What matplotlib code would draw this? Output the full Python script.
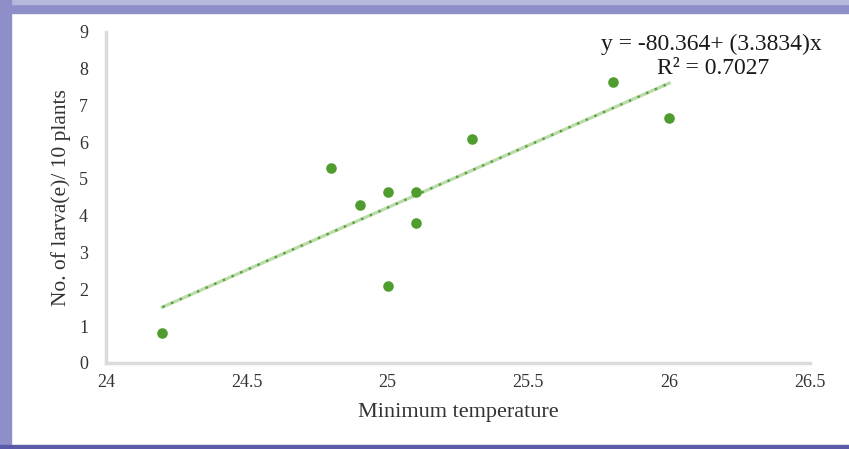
import matplotlib
matplotlib.use('Agg')
import matplotlib.pyplot as plt
import numpy as np
from matplotlib.patches import Rectangle

# data
min_temp = [24.2, 24.8, 24.9, 25.0, 25.0, 25.1, 25.1, 25.3, 25.8, 26.0]
larvae = [0.8, 5.3, 4.3, 4.65, 2.1, 4.65, 3.8, 6.1, 7.65, 6.65]
intercept = -80.364
slope = 3.3834
r_squared = 0.7027

x_ticks = [24, 24.5, 25, 25.5, 26, 26.5]
x_tick_labels = ['24', '24.5', '25', '25.5', '26', '26.5']
y_ticks = list(range(0, 10))

plt.rcParams['font.family'] = ['Liberation Serif', 'DejaVu Serif']

fig = plt.figure(figsize=(8.49, 4.49), dpi=100)
ax = fig.add_axes([0.125, 0.192, 0.829, 0.737])

# scatter points
ax.scatter(min_temp, larvae, s=58, color='#4f9c2f', zorder=3, linewidths=0)

# linear trendline
xl = np.array([min(min_temp), max(min_temp)])
yl = intercept + slope * xl
ax.plot(xl, yl, color='#bcdcab', lw=2.4, zorder=2)
ax.plot(xl, yl, color='#5aa03a', lw=1.7, linestyle=(0, (1, 3)), zorder=2)

ax.text(0.86, 0.962, 'y = %.3f+ (%.4f)x' % (intercept, slope),
        transform=ax.transAxes, ha='center', va='center', fontsize=17, color='#1a1a1a')
ax.text(0.862, 0.89, 'R² = %.4f' % r_squared,
        transform=ax.transAxes, ha='center', va='center', fontsize=17, color='#1a1a1a')

ax.set_xlim(24, 26.5)
ax.set_ylim(0, 9)
ax.set_xticks(x_ticks)
ax.set_xticklabels(x_tick_labels)
ax.set_yticks(y_ticks)
ax.tick_params(length=0, labelsize=13, colors='#333333')
ax.tick_params(axis='x', pad=8)
ax.tick_params(axis='y', pad=13)

for s in ['top', 'right']:
    ax.spines[s].set_visible(False)
for s in ['left', 'bottom']:
    ax.spines[s].set_color('#dcdcdc')
    ax.spines[s].set_linewidth(2.5)

ax.set_xlabel('Minimum temperature', fontsize=16, color='#333333', labelpad=9)
ax.set_ylabel('No. of larva(e)/ 10 plants', fontsize=15.5, color='#333333', labelpad=6)

# frame around the chart
fig.patches.append(Rectangle((0, 0.972), 1, 0.028, transform=fig.transFigure,
                             color='#8e8ec8', zorder=0))
fig.patches.append(Rectangle((0, 0.99), 1, 0.01, transform=fig.transFigure,
                             color='#b8b8dc', zorder=0))
fig.patches.append(Rectangle((0, 0), 0.013, 1, transform=fig.transFigure,
                             color='#8e8ec8', zorder=0))
fig.patches.append(Rectangle((0, 0), 1, 0.008, transform=fig.transFigure,
                             color='#5a5aa8', zorder=0))

fig.savefig('out.png', dpi=100)
